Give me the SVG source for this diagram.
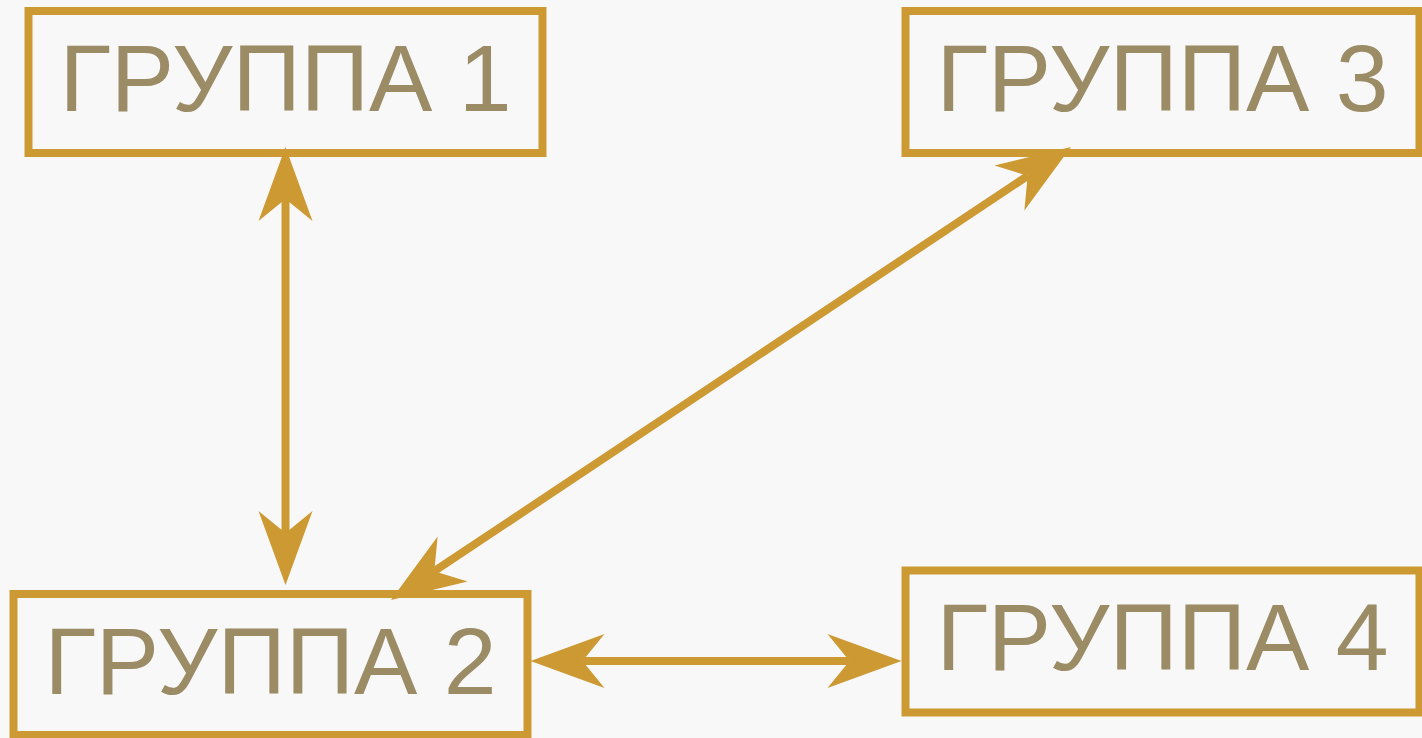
<svg xmlns="http://www.w3.org/2000/svg" width="1422" height="738" viewBox="0 0 1422 738">
  <style>
    .box { fill: none; stroke: #cc9933; stroke-width: 8; }
    .label { font-family: "Liberation Sans", Arial, sans-serif; font-size: 95px; fill: #9c8c66; text-anchor: middle; }
    .conn { stroke: #cc9933; stroke-width: 8; fill: none; marker-start: url(#arrow); marker-end: url(#arrow); }
  </style>
  <defs>
    <marker id="arrow" markerUnits="userSpaceOnUse" viewBox="-23 -28 76 56" refX="0" refY="0" markerWidth="76" markerHeight="56" orient="auto-start-reverse">
      <path d="M52,0 L-22,-27 L0,0 L-22,27 Z" fill="#cc9933"/>
    </marker>
  </defs>
  <rect x="0" y="0" width="1422" height="738" fill="#f8f8f8"/>
  <g id="connectors">
    <line class="conn" x1="285.5" y1="199" x2="285.5" y2="533"/>
    <line class="conn" x1="582.5" y1="661" x2="849.5" y2="661"/>
    <line class="conn" x1="434.3" y1="571.2" x2="1027.7" y2="175.8"/>
  </g>
  <g id="node1">
    <rect class="box" x="28.5" y="11" width="514" height="142"/>
    <text class="label" x="285.5" y="111">ГРУППА 1</text>
  </g>
  <g id="node2">
    <rect class="box" x="13.5" y="594" width="514" height="141"/>
    <text class="label" x="270.5" y="694">ГРУППА 2</text>
  </g>
  <g id="node3">
    <rect class="box" x="905.5" y="11" width="514" height="142"/>
    <text class="label" x="1162.5" y="111">ГРУППА 3</text>
  </g>
  <g id="node4">
    <rect class="box" x="905.5" y="570.5" width="514" height="142"/>
    <text class="label" x="1162.5" y="670">ГРУППА 4</text>
  </g>
</svg>
